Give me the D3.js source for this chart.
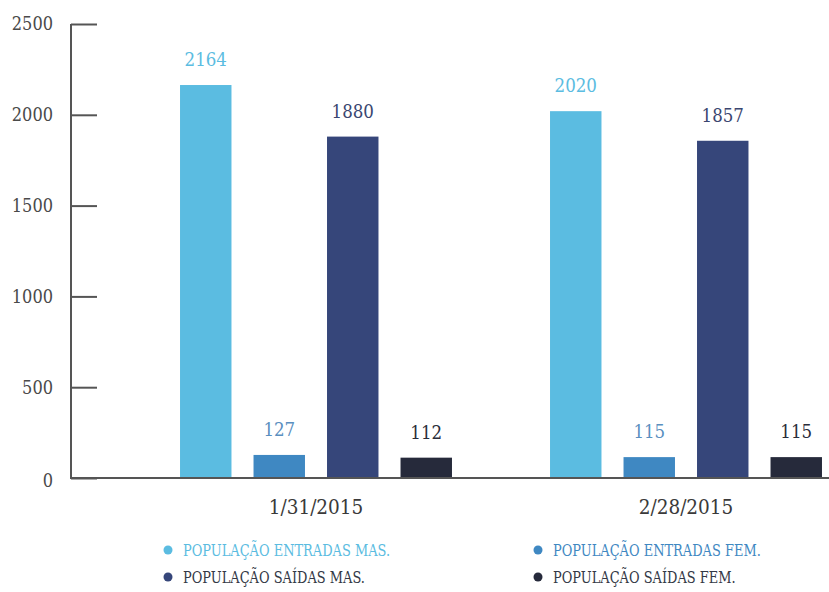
<!DOCTYPE html>
<html>
<head>
<meta charset="utf-8">
<script src="https://cdn.jsdelivr.net/npm/d3@7"></script>
<style>
  html, body { margin: 0; padding: 0; background: #fff; }
  svg text { font-family: "DejaVu Serif", "Liberation Serif", serif; font-stretch: condensed; }
</style>
</head>
<body>
<svg id="chart" width="829" height="592"></svg>
<script>
// Monthly prison population movements
const dates = ["1/31/2015", "2/28/2015"];
const seriesNames = [
  "POPULAÇÃO ENTRADAS MAS.",
  "POPULAÇÃO ENTRADAS FEM.",
  "POPULAÇÃO SAÍDAS MAS.",
  "POPULAÇÃO SAÍDAS FEM."
];
const entradasMas = [2164, 2020];
const entradasFem = [127, 115];
const saidasMas = [1880, 1857];
const saidasFem = [112, 115];
const yTicks = [0, 500, 1000, 1500, 2000, 2500];

const barColors = ["#5bbce1", "#3f88c2", "#36467a", "#262a3b"];
const labelColors = ["#5bbce1", "#5a8fc0", "#3a4670", "#2a2d3a"];

const seriesValues = [entradasMas, entradasFem, saidasMas, saidasFem];
const rows = [];
dates.forEach((d, i) => {
  seriesNames.forEach((s, j) => rows.push({ date: d, series: s, idx: j, value: seriesValues[j][i] }));
});

const svg = d3.select("#chart");

const y = d3.scaleLinear().domain([0, 2500]).range([478, 24]);
const x0 = d3.scaleBand().domain(dates).range([131, 871]);
const x1 = d3.scaleBand().domain(seriesNames).range([-147, 147]).paddingInner(0.3).paddingOuter(0.15);

// Y axis with ticks pointing into the plot
const yAxis = svg.append("g").attr("transform", "translate(71,0)")
  .call(d3.axisRight(y).tickValues(yTicks).tickSize(26).tickFormat(""));
yAxis.select(".domain").remove();
yAxis.selectAll(".tick line").attr("stroke", "#555").attr("stroke-width", 2);
svg.append("line").attr("x1", 71).attr("x2", 71).attr("y1", y(2500)).attr("y2", y(0))
  .attr("stroke", "#555").attr("stroke-width", 2);

svg.append("g").selectAll("text").data(yTicks).join("text")
  .attr("x", 53).attr("y", d => y(d) + (d === 0 ? 3 : 0)).attr("dy", "0.35em")
  .attr("text-anchor", "end").attr("font-size", 18).attr("fill", "#4a4a4a")
  .text(d => d);

// Bars
const groups = svg.append("g").selectAll("g").data(dates).join("g")
  .attr("transform", d => `translate(${x0(d) + x0.bandwidth() / 2},0)`);

groups.selectAll("rect").data(d => rows.filter(r => r.date === d)).join("rect")
  .attr("x", d => x1(d.series)).attr("width", x1.bandwidth())
  .attr("y", d => y(d.value)).attr("height", d => y(0) - y(d.value))
  .attr("fill", d => barColors[d.idx]);

groups.selectAll("text").data(d => rows.filter(r => r.date === d)).join("text")
  .attr("x", d => x1(d.series) + x1.bandwidth() / 2)
  .attr("y", d => y(d.value) - 19)
  .attr("text-anchor", "middle").attr("font-size", 18.5)
  .attr("fill", d => labelColors[d.idx])
  .text(d => d.value);

// X baseline
svg.append("line").attr("x1", 70).attr("x2", 829).attr("y1", y(0)).attr("y2", y(0))
  .attr("stroke", "#555").attr("stroke-width", 2);

svg.append("g").selectAll("text").data(dates).join("text")
  .attr("x", d => x0(d) + x0.bandwidth() / 2).attr("y", 514)
  .attr("text-anchor", "middle").attr("font-size", 20.5).attr("fill", "#3a3a3a")
  .text(d => d);

// Legend
const legendPos = [[168, 550], [538, 550], [168, 577], [538, 577]];
const legendText = ["#5bbce1", "#3f88c2", "#333845", "#333845"];
const legend = svg.append("g").selectAll("g").data(seriesNames).join("g")
  .attr("transform", (d, i) => `translate(${legendPos[i][0]},${legendPos[i][1]})`);
legend.append("circle").attr("r", 4.5).attr("fill", (d, i) => barColors[i]);
legend.append("text").attr("transform", "translate(15,0) scale(0.9,1)")
  .attr("dy", "0.35em").attr("font-size", 16)
  .attr("fill", (d, i) => legendText[i]).text(d => d);
</script>
</body>
</html>
